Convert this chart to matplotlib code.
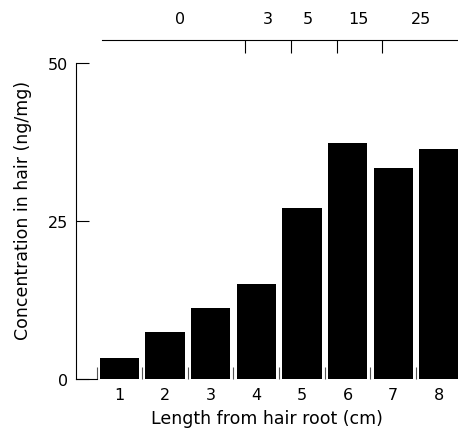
import matplotlib.pyplot as plt

lengths = [1, 2, 3, 4, 5, 6, 7, 8]
conc = [3.3, 7.5, 11.2, 15.0, 27.0, 37.3, 33.4, 36.3]
y_ticks = [0, 25, 50]
# upper scale (segment boundaries and labels, in cm)
top_bounds = [3.75, 4.76, 5.77, 6.76]
top_label_pos = [2.33, 4.25, 5.13, 6.23, 7.6]
top_labels = ['0', '3', '5', '15', '25']

plt.rcParams['font.family'] = 'DejaVu Sans'

fig = plt.figure(figsize=(4.58, 4.35), dpi=100)
ax = fig.add_axes([0.166, 0.1264, 0.834, 0.7793])

ax.bar(lengths, conc, width=0.86, color='black')

ax.set_xlim(0.05, 8.42)
ax.set_ylim(0, 53.6)

for s in ['top', 'right']:
    ax.spines[s].set_visible(False)
ax.spines['left'].set_bounds(0, 50)
ax.spines['bottom'].set_bounds(0.05, 0.5)
for s in ['left', 'bottom']:
    ax.spines[s].set_linewidth(0.8)

ax.set_yticks(y_ticks)
ax.set_xticks([x - 0.5 for x in lengths])
ax.set_xticklabels([])
ax.set_xticks(lengths, minor=True)
ax.set_xticklabels([str(x) for x in lengths], minor=True)
ax.tick_params(axis='x', which='major', direction='in', length=9, width=0.8, color='#555555')
ax.tick_params(axis='x', which='minor', length=0, labelsize=11.5, pad=6)
ax.tick_params(axis='y', direction='in', length=9, width=0.8, labelsize=11.5, pad=6)

ax.set_xlabel('Length from hair root (cm)', fontsize=12.5, labelpad=5)
ax.set_ylabel('Concentration in hair (ng/mg)', fontsize=12.5, labelpad=11)

top = ax.twiny()
top.set_xlim(ax.get_xlim())
for s in ['left', 'right', 'bottom']:
    top.spines[s].set_visible(False)
top.spines['top'].set_bounds(0.63, 8.42)
top.spines['top'].set_linewidth(0.8)
top.set_xticks(top_bounds)
top.set_xticklabels([])
top.set_xticks(top_label_pos, minor=True)
top.set_xticklabels(top_labels, minor=True)
top.tick_params(axis='x', which='major', direction='in', length=9, width=0.8)
top.tick_params(axis='x', which='minor', length=0, labelsize=11.5, pad=10)

fig.savefig('out.png', dpi=100)
